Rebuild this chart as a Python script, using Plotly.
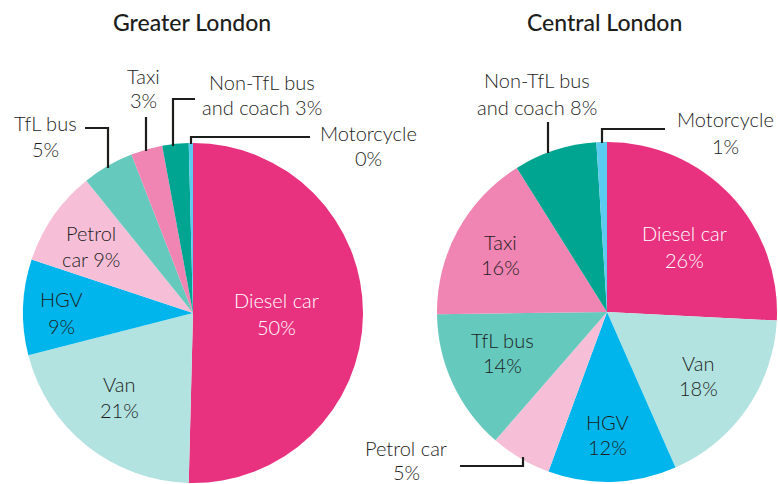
import plotly.graph_objects as go

W, H = 778, 484

categories = ["Diesel car", "Van", "HGV", "Petrol car", "TfL bus", "Taxi",
              "Non-TfL bus and coach", "Motorcycle"]
greater_values = [50.4, 20.6, 9.1, 9.1, 4.9, 3.0, 2.5, 0.4]
central_values = [25.8, 17.6, 12.2, 5.8, 13.4, 16.3, 7.9, 1.0]
greater_pct_labels = ["50%", "21%", "9%", "9%", "5%", "3%", "3%", "0%"]
central_pct_labels = ["26%", "18%", "12%", "5%", "14%", "16%", "8%", "1%"]
titles = ["Greater London", "Central London"]

colors = ["#E8317F", "#B2E3E0", "#00B5EC", "#F6BFD7", "#65C9BE",
          "#F084B2", "#00A591", "#5BCBEF"]

FONT = "Lato"
TXT = "#1d1d1b"


def px(x):
    return x / W


def py(y):
    return 1 - y / H


fig = go.Figure()

# Pie geometry (pixels): center and radius
pies = [
    dict(cx=193, cy=313, r=170, values=greater_values),
    dict(cx=607, cy=312, r=170, values=central_values),
]
for p in pies:
    fig.add_trace(go.Pie(
        labels=categories, values=p["values"], sort=False,
        direction="clockwise", rotation=0,
        marker=dict(colors=colors, line=dict(width=0)),
        textinfo="none", hoverinfo="label+percent",
        showlegend=False,
        domain=dict(x=[px(p["cx"] - p["r"]), px(p["cx"] + p["r"])],
                    y=[py(p["cy"] + p["r"]), py(p["cy"] - p["r"])]),
    ))

annotations = []


def label(lines, x, ys, color=TXT, size=20):
    for line, y in zip(lines, ys):
        annotations.append(dict(
            text=line, x=px(x), y=py(y), xref="paper", yref="paper",
            showarrow=False, xanchor="center", yanchor="middle",
            font=dict(family=FONT, size=size, color=color, weight=300)))


# Titles
for t, x in zip(titles, [192, 604]):
    annotations.append(dict(
        text=t, x=px(x), y=py(22), xref="paper", yref="paper",
        showarrow=False, xanchor="center", yanchor="middle",
        font=dict(family=FONT, size=23, color=TXT, weight=500)))

g = dict(zip(categories, greater_pct_labels))
c = dict(zip(categories, central_pct_labels))

# Greater London labels
label(["Diesel car", g["Diesel car"]], 276, [300, 327], color="white")
label(["Van", g["Van"]], 119, [384, 410])
label(["HGV", g["HGV"]], 61, [299, 326])
label(["Petrol", "car " + g["Petrol car"]], 91, [233, 259])
label(["TfL bus", g["TfL bus"]], 45, [123, 149])
label(["Taxi", g["Taxi"]], 143, [76, 100])
label(["Non-TfL bus", "and coach " + g["Non-TfL bus and coach"]], 262, [82, 107])
label(["Motorcycle", g["Motorcycle"]], 368, [133, 158])

# Central London labels
label(["Diesel car", c["Diesel car"]], 684, [233, 260], color="white")
label(["Van", c["Van"]], 698, [363, 388])
label(["HGV", c["HGV"]], 607, [422, 447])
label(["Taxi", c["Taxi"]], 500, [242, 267])
label(["TfL bus", c["TfL bus"]], 502, [340, 365])
label(["Petrol car", c["Petrol car"]], 406, [448, 472])
label(["Non-TfL bus", "and coach " + c["Non-TfL bus and coach"]], 537, [80, 107])
label(["Motorcycle", c["Motorcycle"]], 725, [119, 146])

# Leader lines (pixel polylines)
leaders = [
    [(85, 128), (108, 128), (108, 168)],          # TfL bus
    [(146, 117), (146, 151)],                     # Taxi
    [(195, 99), (173, 99), (173, 146)],           # Non-TfL
    [(310, 137), (191, 137), (191, 144)],         # Motorcycle
    [(548, 122), (548, 153)],                     # Central Non-TfL
    [(665, 129), (602, 129), (602, 143)],         # Central Motorcycle
    [(460, 466), (523, 466), (523, 457)],         # Central Petrol car
]
shapes = []
for pts in leaders:
    path = "M " + " L ".join(f"{px(x)},{py(y)}" for x, y in pts)
    shapes.append(dict(type="path", path=path, xref="paper", yref="paper",
                       line=dict(color="#1d1d1b", width=2.2)))

fig.update_layout(
    width=W, height=H, margin=dict(l=0, r=0, t=0, b=0),
    paper_bgcolor="white", plot_bgcolor="white",
    annotations=annotations, shapes=shapes,
    font=dict(family=FONT, color=TXT),
)

fig.write_html("out.html",
               config={"displayModeBar": False},
               post_script="document.body.style.margin='0';"
                           "document.body.style.overflow='hidden';")
